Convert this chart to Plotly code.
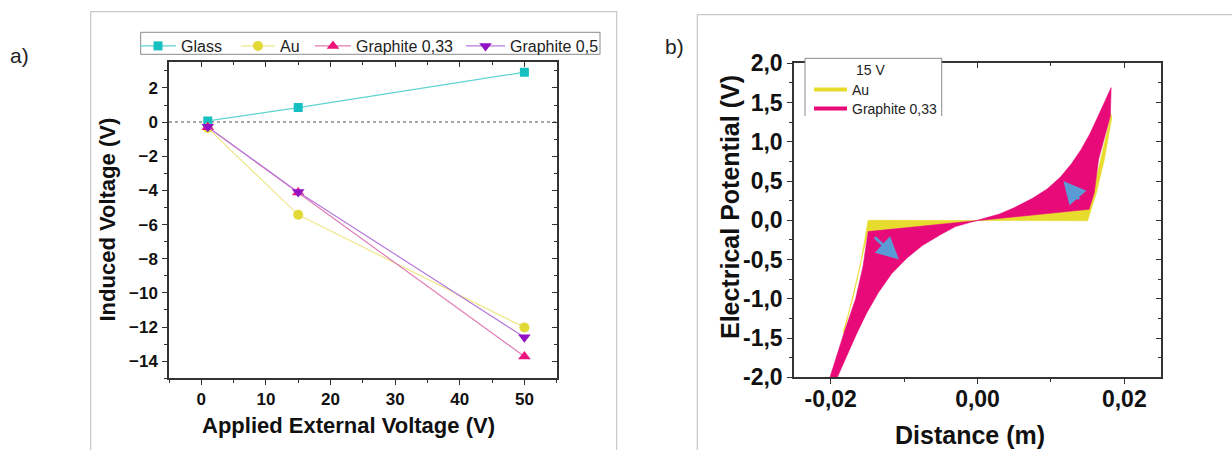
import plotly.graph_objects as go

# ---------------- Panel a data ----------------
applied_v = [1, 15, 50]
glass = [0.07, 0.85, 2.92]
au = [-0.35, -5.43, -12.02]
graphite_033 = [-0.30, -4.12, -13.72]
graphite_05 = [-0.28, -4.10, -12.60]

# ---------------- Panel b data (15 V, envelope of the curve families) ----------------
au_x = [-0.0183, -0.0170, -0.0160, -0.01525, -0.0149, 0.0150, 0.0155, 0.0162, 0.0173,
        0.0183, 0.0182, 0.0152, -0.0149, -0.0182]
au_y = [-1.42, -1.00, -0.59, -0.21, 0.00, -0.005, 0.14, 0.35, 0.78,
        1.31, 1.35, 0.14, -0.144, -1.44]

graphite_x = [-0.0201, -0.0182, -0.0166, -0.0156, -0.0150, -0.0149, 0.0152,
              0.0159, 0.0165, 0.0181, 0.0182,
              0.0174, 0.0164, 0.0153, 0.0141, 0.0128, 0.0113, 0.0095, 0.0075, 0.0050, 0.0030, 0.0,
              -0.0030, -0.0050, -0.0075, -0.0096, -0.0117, -0.0135, -0.0151, -0.0165,
              -0.0178, -0.0191]
graphite_y = [-2.00, -1.44, -1.00, -0.59, -0.21, -0.144, 0.14,
              0.35, 0.78, 1.33, 1.69,
              1.52, 1.32, 1.10, 0.90, 0.72, 0.55, 0.40, 0.28, 0.16, 0.08, 0.0,
              -0.08, -0.18, -0.32, -0.48, -0.68, -0.92, -1.18, -1.45,
              -1.72, -2.00]

b_yticks = [-2.0, -1.5, -1.0, -0.5, 0.0, 0.5, 1.0, 1.5, 2.0]
b_yticktext = ["-2,0", "-1,5", "-1,0", "-0,5", "0,0", "0,5", "1,0", "1,5", "2,0"]
b_xticks = [-0.02, 0.0, 0.02]
b_xticktext = ["-0,02", "0,00", "0,02"]

# arrows (tail -> head)
arrow_left = dict(tail=(-0.0142, -0.20), head=(-0.0107, -0.50))
arrow_right = dict(tail=(0.0140, 0.25), head=(0.0117, 0.50))

W, H = 1232, 450
def px(x):
    return x / W
def py(y):
    return 1 - y / H

C_GLASS = "#17C0C0"
C_GLASS_L = "#5FD3D3"
C_AU = "#E3D936"
C_AU_L = "#EEE78A"
C_G33 = "#EA137B"
C_G33_L = "#E07CB4"
C_G05 = "#9212C6"
C_G05_L = "#B67ADB"
PINK = "#E80A78"
YELLOW = "#E7DC2E"
AX = "#333333"
FONT = "Liberation Sans"

fig = go.Figure()

# one single-entry legend per series so each entry sits where the reference has it
series = [
    ("Glass", glass, "square", 9, C_GLASS, C_GLASS_L, "legend", 135, 36),
    ("Au", au, "circle", 10, C_AU, C_AU_L, "legend3", 236, 34),
    ("Graphite 0,33", graphite_033, "triangle-up", 11, C_G33, C_G33_L, "legend4", 310, 36),
    ("Graphite 0,5", graphite_05, "triangle-down", 11, C_G05, C_G05_L, "legend5", 461, 39),
]
legend_layout = {}
for name, vals, sym, size, mc, lc, lg, lx, iw in series:
    fig.add_trace(go.Scatter(
        x=applied_v, y=vals, name=name, mode="lines+markers",
        line=dict(color=lc, width=1.2),
        marker=dict(symbol=sym, size=size, color=mc),
        xaxis="x", yaxis="y", legend=lg,
    ))
    legend_layout[lg] = dict(x=px(lx), y=py(29), xanchor="left", yanchor="top",
                             bgcolor="rgba(0,0,0,0)", borderwidth=0, itemwidth=iw,
                             font=dict(family=FONT, size=16, color="#222222"))

# Panel b fills
fig.add_trace(go.Scatter(x=au_x, y=au_y, mode="lines", fill="toself",
                         fillcolor=YELLOW, line=dict(color=YELLOW, width=0.6),
                         showlegend=False, xaxis="x2", yaxis="y2", hoverinfo="skip"))
fig.add_trace(go.Scatter(x=graphite_x, y=graphite_y, mode="lines", fill="toself",
                         fillcolor=PINK, line=dict(color=PINK, width=0.6),
                         showlegend=False, xaxis="x2", yaxis="y2", hoverinfo="skip"))
# legend entries for panel b
fig.add_trace(go.Scatter(x=[None], y=[None], mode="lines", name="Au",
                         line=dict(color=YELLOW, width=4), xaxis="x2", yaxis="y2",
                         legend="legend2"))
fig.add_trace(go.Scatter(x=[None], y=[None], mode="lines", name="Graphite 0,33",
                         line=dict(color=PINK, width=4), xaxis="x2", yaxis="y2",
                         legend="legend6"))
legend_layout["legend2"] = dict(x=px(809), y=py(74), xanchor="left", yanchor="top",
                                bgcolor="rgba(0,0,0,0)", borderwidth=0, itemwidth=33,
                                font=dict(family=FONT, size=14, color="#222222"))
legend_layout["legend6"] = dict(x=px(809), y=py(93), xanchor="left", yanchor="top",
                                bgcolor="rgba(0,0,0,0)", borderwidth=0, itemwidth=33,
                                font=dict(family=FONT, size=14, color="#222222"))
# dummy traces for overlay (inner tick) axes
fig.add_trace(go.Scatter(x=[None], y=[None], xaxis="x3", yaxis="y3", showlegend=False, hoverinfo="skip"))
fig.add_trace(go.Scatter(x=[None], y=[None], xaxis="x4", yaxis="y4", showlegend=False, hoverinfo="skip"))

a_xdom = [px(169), px(556.7)]
a_ydom = [py(378.3), py(62.3)]
b_xdom = [px(794), px(1161)]
b_ydom = [py(377.3), py(63.3)]

common = dict(showgrid=False, zeroline=False, linecolor=AX, linewidth=1.5,
              tickcolor=AX, tickwidth=1.3, automargin=False)
inner = dict(showticklabels=False, showline=False, showgrid=False, zeroline=False,
             tickcolor=AX, tickwidth=1.3, automargin=False, ticks="inside", ticklen=5)
tf_a = dict(family=FONT, size=17, color="#111111", weight="bold")
tf_b = dict(family=FONT, size=23, color="#111111", weight="bold")

fig.update_layout(
    width=W, height=H, margin=dict(l=0, r=0, t=0, b=0, autoexpand=False),
    paper_bgcolor="white", plot_bgcolor="white",
    xaxis=dict(domain=a_xdom, range=[-5, 55], anchor="y", tick0=0, dtick=10,
               ticks="outside", ticklen=5, mirror=True, tickfont=tf_a,
               ticklabelstandoff=0,
               minor=dict(dtick=5, tick0=0, ticks="outside", ticklen=3, tickcolor=AX), **common),
    yaxis=dict(domain=a_ydom, range=[-15, 3.5], anchor="x", tick0=0, dtick=2,
               ticks="outside", ticklen=5, mirror=True, tickfont=tf_a,
               ticklabelstandoff=1,
               minor=dict(dtick=1, tick0=0, ticks="outside", ticklen=3, tickcolor=AX), **common),
    xaxis3=dict(overlaying="x", side="top", anchor="y", range=[-5, 55], tick0=0, dtick=10,
                minor=dict(dtick=5, tick0=0, ticks="inside", ticklen=3, tickcolor=AX), **inner),
    yaxis3=dict(overlaying="y", side="right", anchor="x", range=[-15, 3.5], tick0=0, dtick=2,
                minor=dict(dtick=1, tick0=0, ticks="inside", ticklen=3, tickcolor=AX), **inner),
    xaxis2=dict(domain=b_xdom, range=[-0.025, 0.025], anchor="y2", tickmode="array",
                tickvals=b_xticks, ticktext=b_xticktext, ticks="outside", ticklen=5,
                mirror=True, tickfont=tf_b, ticklabelstandoff=-5,
                minor=dict(dtick=0.01, tick0=0, ticks="outside", ticklen=3, tickcolor=AX), **common),
    yaxis2=dict(domain=b_ydom, range=[-2, 2], anchor="x2", tickmode="array",
                tickvals=b_yticks, ticktext=b_yticktext, ticks="outside", ticklen=5,
                mirror=True, tickfont=tf_b, ticklabelstandoff=0,
                minor=dict(dtick=0.25, tick0=0, ticks="outside", ticklen=3, tickcolor=AX), **common),
    xaxis4=dict(overlaying="x2", side="top", anchor="y2", range=[-0.025, 0.025],
                tickmode="array", tickvals=b_xticks,
                minor=dict(dtick=0.01, tick0=0, ticks="inside", ticklen=3, tickcolor=AX), **inner),
    yaxis4=dict(overlaying="y2", side="right", anchor="x2", range=[-2, 2],
                tickmode="array", tickvals=b_yticks,
                minor=dict(dtick=0.25, tick0=0, ticks="inside", ticklen=3, tickcolor=AX), **inner),
    showlegend=True,
    **legend_layout,
)

shapes = [
    # panel frames
    dict(type="rect", xref="paper", yref="paper", x0=px(90.7), x1=px(616.7), y0=-0.02, y1=py(11.7),
         line=dict(color="#c8c8c8", width=1.2), fillcolor="rgba(0,0,0,0)", layer="below"),
    dict(type="rect", xref="paper", yref="paper", x0=px(697.3), x1=1.02, y0=-0.02, y1=py(14.7),
         line=dict(color="#c8c8c8", width=1.2), fillcolor="rgba(0,0,0,0)", layer="below"),
    # zero reference line panel a
    dict(type="line", xref="x domain", yref="y", x0=0, x1=1, y0=0, y1=0,
         line=dict(color="#8c8c8c", width=1.5, dash="dot"), layer="below"),
    # panel a legend box
    dict(type="rect", xref="paper", yref="paper", x0=px(140.7), x1=px(600), y0=py(54.3), y1=py(32.3),
         line=dict(color="#8a8a8a", width=1), fillcolor="white", layer="above"),
    # panel b legend box (no bottom border)
    dict(type="rect", xref="paper", yref="paper", x0=px(805), x1=px(941.7), y0=py(116), y1=py(58.3),
         line=dict(width=0), fillcolor="white", layer="above"),
    dict(type="line", xref="paper", yref="paper", x0=px(805), x1=px(941.7), y0=py(58.3), y1=py(58.3),
         line=dict(color="#8a8a8a", width=1), layer="above"),
    dict(type="line", xref="paper", yref="paper", x0=px(805), x1=px(805), y0=py(58.3), y1=py(116),
         line=dict(color="#8a8a8a", width=1), layer="above"),
    dict(type="line", xref="paper", yref="paper", x0=px(941.7), x1=px(941.7), y0=py(58.3), y1=py(116),
         line=dict(color="#8a8a8a", width=1), layer="above"),
]
fig.update_layout(shapes=shapes)

title_font_a = dict(family=FONT, size=22, color="#111111", weight="bold")
title_font_b = dict(family=FONT, size=25, color="#111111", weight="bold")
cc = dict(xref="paper", yref="paper", showarrow=False, xanchor="center", yanchor="middle")
ann = [
    dict(text="a)", x=px(20), y=py(55), font=dict(family=FONT, size=21, color="#222222"), **cc),
    dict(text="b)", x=px(674), y=py(46.5), font=dict(family=FONT, size=21, color="#222222"), **cc),
    dict(text="Applied External Voltage (V)", x=px(348), y=py(425), font=title_font_a, **cc),
    dict(text="Induced Voltage (V)", x=px(106.5), y=py(220), textangle=-90, font=title_font_a, **cc),
    dict(text="Distance (m)", x=px(970), y=py(435), font=title_font_b, **cc),
    dict(text="Electrical Potential (V)", x=px(730), y=py(207), textangle=-90, font=title_font_b, **cc),
    dict(text="15 V", x=px(870), y=py(70), font=dict(family=FONT, size=14, color="#222222"), **cc),
]
for arr in (arrow_left, arrow_right):
    ann.append(dict(text="", xref="x2", yref="y2", axref="x2", ayref="y2",
                    x=arr["head"][0], y=arr["head"][1], ax=arr["tail"][0], ay=arr["tail"][1],
                    showarrow=True, arrowhead=2, arrowsize=1.6, arrowwidth=2.8,
                    arrowcolor="#5B9BD5"))
fig.update_layout(annotations=ann)

fig.write_html("out.html")
